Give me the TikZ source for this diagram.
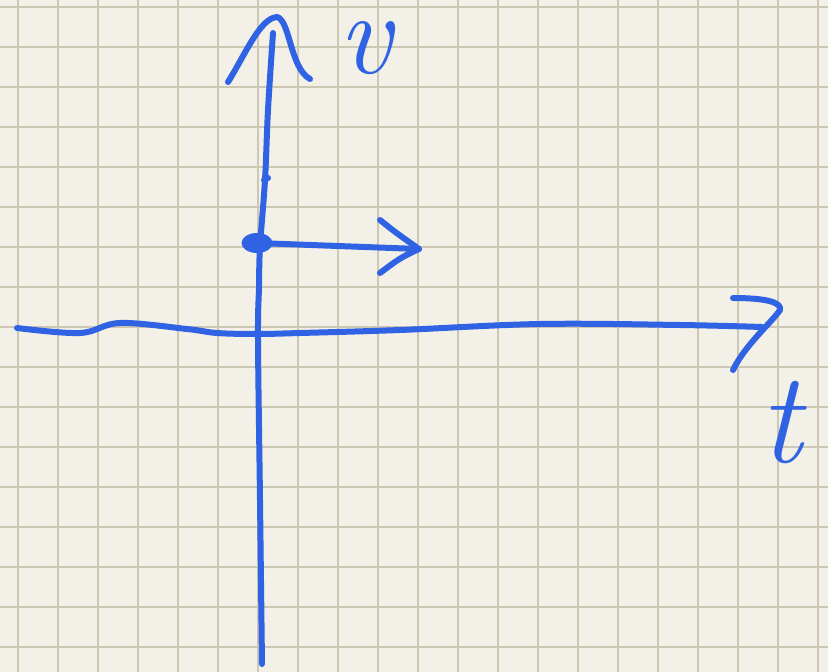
\documentclass[tikz,border=0pt]{standalone}
\usepackage{amsmath}
\usetikzlibrary{shapes.geometric}
\definecolor{paper}{RGB}{243,241,231}
\definecolor{gridtan}{RGB}{205,200,180}
\definecolor{penblue}{RGB}{48,98,228}

\begin{document}
\begin{tikzpicture}[x=1pt, y=-1pt,
  ink/.style={draw=penblue, line width=6pt, line cap=round, line join=round},
  gridline/.style={draw=gridtan, line width=2pt},
  handtext/.style={text=penblue, font=\fontsize{130}{130}\selectfont\itshape, inner sep=0pt, anchor=base}]
  % paper and grid
  \fill[paper] (0,0) rectangle (828,672);
  \useasboundingbox (0,0) rectangle (828,672);
  \foreach \i in {0,...,20}
    \draw[gridline] ({18.3+40*\i},0) -- ++(0,672);
  \foreach \j in {0,...,16}
    \draw[gridline] (0,{6.5+40*\j}) -- ++(828,0);

  % horizontal axis (t)
  \draw[ink] plot[smooth, tension=0.6] coordinates {(17,328) (80,333) (120,323) (187,329) (217,333)
    (257,334) (300,333) (400,330) (540,324) (680,325) (762,327)};
  \draw[ink] (733,298) .. controls (765,298) and (782,302) .. (780,310)
    .. controls (772,322) and (745,345) .. (733,370);

  % vertical axis (v)
  \draw[ink] plot[smooth, tension=0.6] coordinates {(262,664) (260,500) (258,340) (259,287)
    (260,247) (265,180) (268,110) (273,33)};
  \draw[ink] (228,82) .. controls (245,55) and (260,18) .. (277,17)
    .. controls (290,20) and (290,68) .. (310,79);
  \draw[ink] (264,180) -- (268,178);

  % labels
  \node[handtext, font=\fontsize{118}{118}\selectfont\itshape, text height=0.46em, text depth=0pt] (vlabel) at (365,73) {v};
  \node[handtext] (tlabel) at (781,462) {t};

  % initial point and velocity arrow
  \node[ellipse, fill=penblue, minimum width=31pt, minimum height=20pt, inner sep=0pt] (start) at (257,243) {};
  \coordinate (tip) at (419,249);
  \draw[ink] (start.center) -- (tip);
  \draw[ink] (380,220) .. controls (395,232) .. (tip) .. controls (400,258) .. (380,273);
\end{tikzpicture}
\end{document}
